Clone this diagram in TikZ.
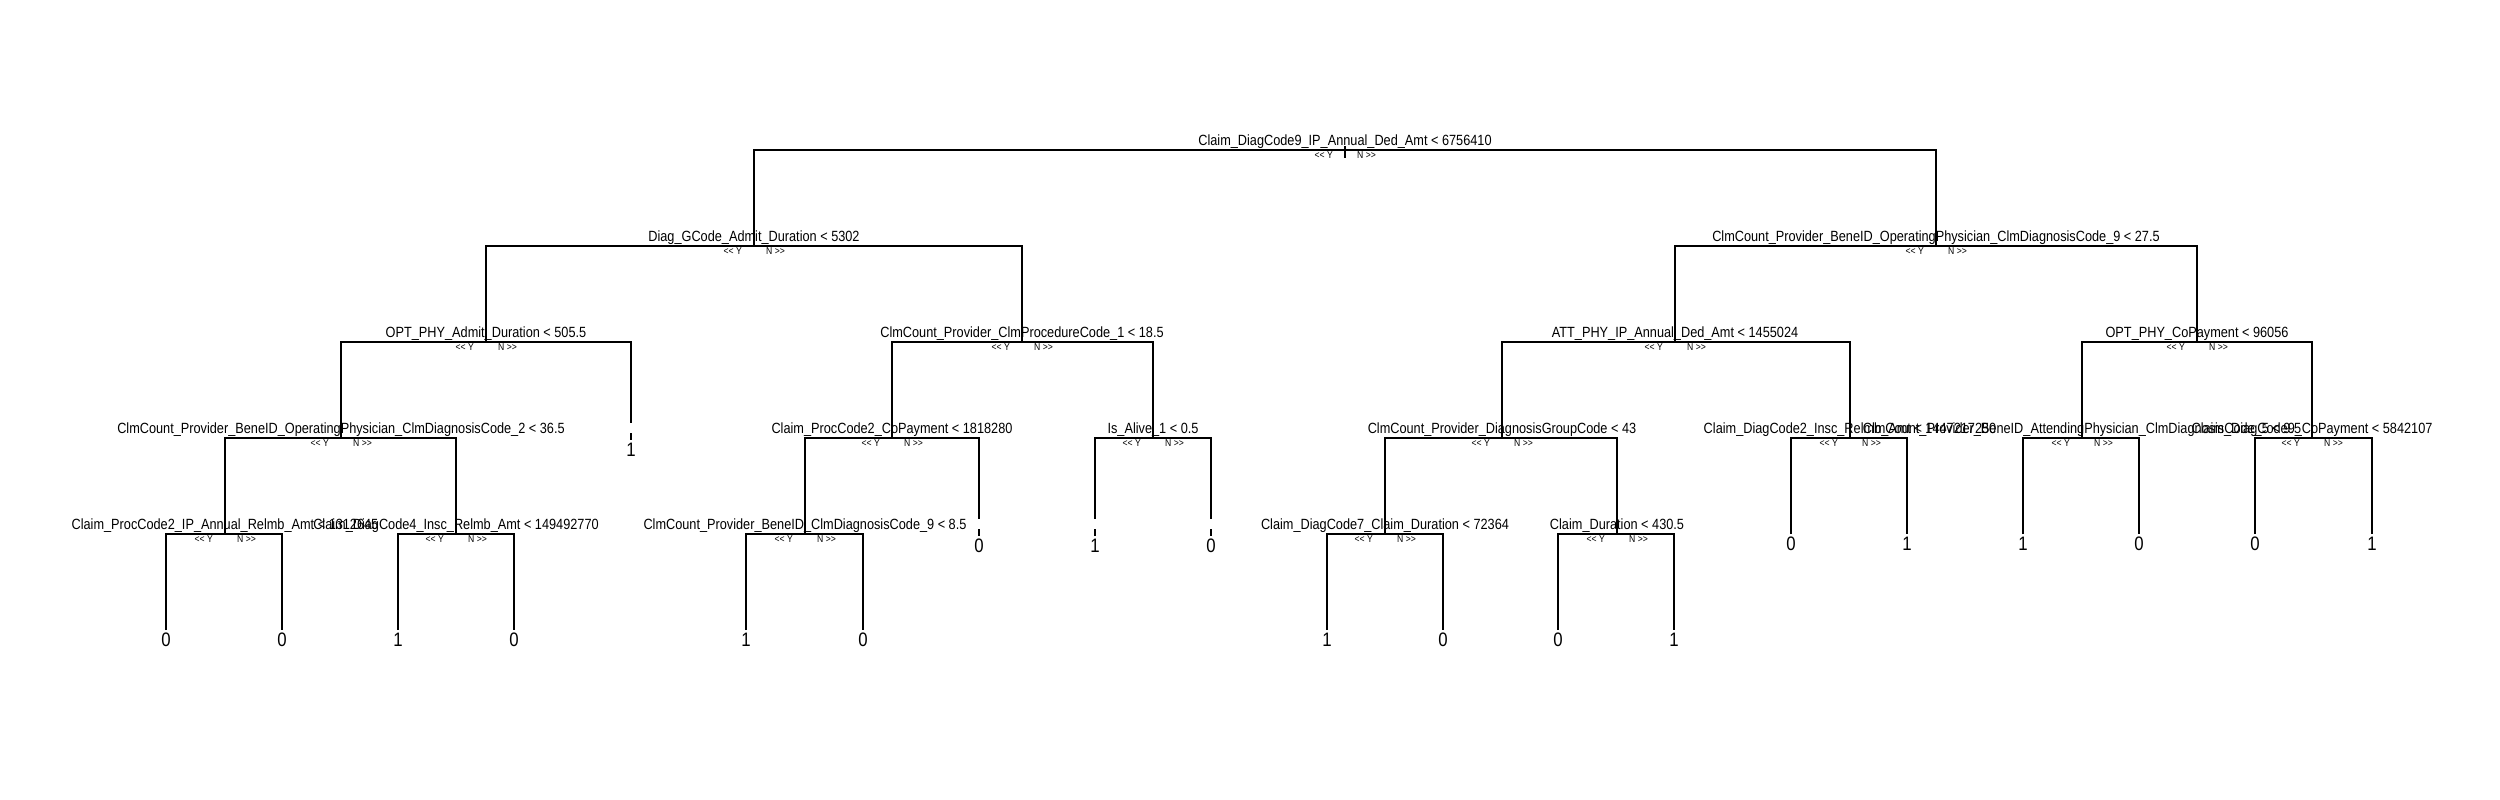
\documentclass[tikz,border=0pt]{standalone}
\usepackage{fontspec}
\setmainfont{Liberation Sans}[FakeStretch=0.86]
\tikzset{
  split/.style={anchor=base, inner sep=0pt, font=\fontsize{14.8}{16}\selectfont},
  ynlab/.style={inner sep=0pt, font=\fontsize{10}{11}\selectfont},
  leaflab/.style={anchor=north, inner sep=0pt, font=\fontsize{19.5}{20}\selectfont},
  branch/.style={line width=1.3pt, line join=miter},
  gapmark/.style={draw=white, line width=3pt},
}
\newcommand\splitnode[2]{%
  \node[split] (#1-l) at ([yshift=5pt]#1) {#2};
  \node[ynlab, anchor=base east] (#1-y) at ([xshift=-12pt,yshift=-8pt]#1) {<{}< Y};
  \node[ynlab, anchor=base west] (#1-n) at ([xshift=12pt,yshift=-8pt]#1) {N >{}>};
}
\newcommand\leafnode[2]{%
  \node[leaflab] (#1-l) at ([yshift=-3pt]#1) {#2};
}
\begin{document}
\begin{tikzpicture}[x=1pt,y=-1pt]
\path[use as bounding box, fill=white] (0,0) rectangle (2500,800);
% coordinates of split nodes
\coordinate (R) at (1345,150);
\coordinate (A) at (754,246);
\coordinate (B) at (1936,246);
\coordinate (C) at (486,342);
\coordinate (D) at (1022,342);
\coordinate (F) at (1675,342);
\coordinate (S) at (2197,342);
\coordinate (E) at (341,438);
\coordinate (I) at (892,438);
\coordinate (J) at (1153,438);
\coordinate (M) at (1502,438);
\coordinate (N) at (1850,438);
\coordinate (Q) at (2082,438);
\coordinate (T) at (2312,438);
\coordinate (G) at (225,534);
\coordinate (H) at (456,534);
\coordinate (K) at (805,534);
\coordinate (O) at (1385,534);
\coordinate (P) at (1617,534);
% leaves
\coordinate (c2) at (631,440);
\coordinate (i2) at (979,536);
\coordinate (j1) at (1095,536);
\coordinate (j2) at (1211,536);
\coordinate (n1) at (1791,534);
\coordinate (n2) at (1907,534);
\coordinate (q1) at (2023,534);
\coordinate (q2) at (2139,534);
\coordinate (t1) at (2255,534);
\coordinate (t2) at (2372,534);
\coordinate (g1) at (166,630);
\coordinate (g2) at (282,630);
\coordinate (h1) at (398,630);
\coordinate (h2) at (514,630);
\coordinate (k1) at (746,630);
\coordinate (k2) at (863,630);
\coordinate (o1) at (1327,630);
\coordinate (o2) at (1443,630);
\coordinate (p1) at (1558,630);
\coordinate (p2) at (1674,630);
% branches
\draw[branch] ([yshift=4pt]R) -- ([yshift=-8pt]R);
\draw[branch] (A) |- (R) -| (B);
\draw[branch] (C) |- (A) -| (D);
\draw[branch] (F) |- (B) -| (S);
\draw[branch] (E) |- (C) -| (c2);
\draw[branch] (I) |- (D) -| (J);
\draw[branch] (M) |- (F) -| (N);
\draw[branch] (Q) |- (S) -| (T);
\draw[branch] (G) |- (E) -| (H);
\draw[branch] (K) |- (I) -| (i2);
\draw[branch] (j1) |- (J) -| (j2);
\draw[branch] (O) |- (M) -| (P);
\draw[branch] (n1) |- (N) -| (n2);
\draw[branch] (q1) |- (Q) -| (q2);
\draw[branch] (t1) |- (T) -| (t2);
\draw[branch] (g1) |- (G) -| (g2);
\draw[branch] (h1) |- (H) -| (h2);
\draw[branch] (k1) |- (K) -| (k2);
\draw[branch] (o1) |- (O) -| (o2);
\draw[branch] (p1) |- (P) -| (p2);
% small breaks seen in some leaf stems
\foreach \lf in {c2,i2,j1,j2}{
  \draw[gapmark] ([yshift=17pt]\lf) -- ([yshift=7pt]\lf);
}
% split labels
\splitnode{R}{Claim\_DiagCode9\_IP\_Annual\_Ded\_Amt < 6756410}
\splitnode{A}{Diag\_GCode\_Admit\_Duration < 5302}
\splitnode{B}{ClmCount\_Provider\_BeneID\_OperatingPhysician\_ClmDiagnosisCode\_9 < 27.5}
\splitnode{C}{OPT\_PHY\_Admit\_Duration < 505.5}
\splitnode{D}{ClmCount\_Provider\_ClmProcedureCode\_1 < 18.5}
\splitnode{F}{ATT\_PHY\_IP\_Annual\_Ded\_Amt < 1455024}
\splitnode{S}{OPT\_PHY\_CoPayment < 96056}
\splitnode{E}{ClmCount\_Provider\_BeneID\_OperatingPhysician\_ClmDiagnosisCode\_2 < 36.5}
\splitnode{I}{Claim\_ProcCode2\_CoPayment < 1818280}
\splitnode{J}{Is\_Alive\_1 < 0.5}
\splitnode{M}{ClmCount\_Provider\_DiagnosisGroupCode < 43}
\splitnode{N}{Claim\_DiagCode2\_Insc\_Relmb\_Amt < 1447217250}
\splitnode{Q}{ClmCount\_Provider\_BeneID\_AttendingPhysician\_ClmDiagnosisCode\_5 < 9.5}
\splitnode{T}{Claim\_DiagCode9\_CoPayment < 5842107}
\splitnode{G}{Claim\_ProcCode2\_IP\_Annual\_Relmb\_Amt < 1312645}
\splitnode{H}{Claim\_DiagCode4\_Insc\_Relmb\_Amt < 149492770}
\splitnode{K}{ClmCount\_Provider\_BeneID\_ClmDiagnosisCode\_9 < 8.5}
\splitnode{O}{Claim\_DiagCode7\_Claim\_Duration < 72364}
\splitnode{P}{Claim\_Duration < 430.5}
% leaf labels
\leafnode{c2}{1}
\leafnode{i2}{0}
\leafnode{j1}{1}
\leafnode{j2}{0}
\leafnode{n1}{0}
\leafnode{n2}{1}
\leafnode{q1}{1}
\leafnode{q2}{0}
\leafnode{t1}{0}
\leafnode{t2}{1}
\leafnode{g1}{0}
\leafnode{g2}{0}
\leafnode{h1}{1}
\leafnode{h2}{0}
\leafnode{k1}{1}
\leafnode{k2}{0}
\leafnode{o1}{1}
\leafnode{o2}{0}
\leafnode{p1}{0}
\leafnode{p2}{1}
\end{tikzpicture}
\end{document}
